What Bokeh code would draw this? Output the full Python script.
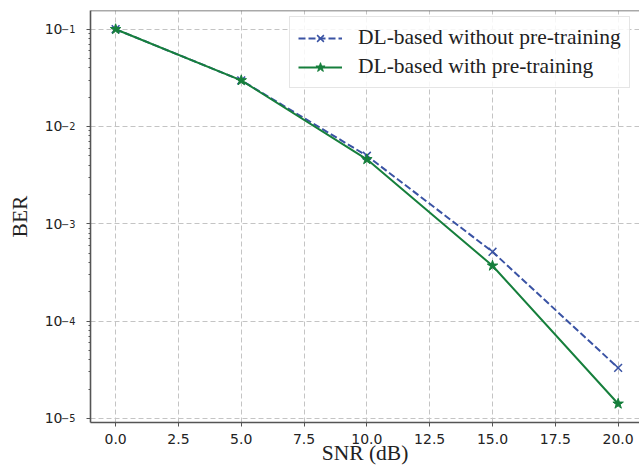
from bokeh.plotting import figure
from bokeh.models import FixedTicker, CustomJSTickFormatter, PrintfTickFormatter, Range1d, Span, LogAxis
from bokeh.embed import file_html
from bokeh.resources import INLINE
import math

# ---- data ----
snr = [0, 5, 10, 15, 20]
ber_without = [0.1, 0.0298, 0.0050, 0.000515, 3.3e-5]
ber_with = [0.1, 0.0298, 0.0046, 0.00037, 1.41e-5]
label_without = "DL-based without pre-training"
label_with = "DL-based with pre-training"
x_ticks = [0, 2.5, 5, 7.5, 10, 12.5, 15, 17.5, 20]
y_ticks = [1e-5, 1e-4, 1e-3, 1e-2, 1e-1]

BLUE = "#3a53a4"
GREEN = "#167f3c"
SERIF = "Liberation Serif"
SANS = "DejaVu Sans"
AXC = "#555555"
TXT = "#222222"

# y range: 5% log margins around the data
all_y = ber_without + ber_with
lo, hi = math.log10(min(all_y)), math.log10(max(all_y))
span = hi - lo
y_start, y_end = 10 ** (lo - 0.05 * span), 10 ** (hi + 0.05 * span)
x_start = -1

p = figure(width=639, height=472, y_axis_type="log",
           x_range=Range1d(x_start, 20.85), y_range=Range1d(y_start, y_end),
           output_backend="svg", toolbar_location=None,
           min_border_left=90, min_border_top=10, min_border_right=0, min_border_bottom=50)

p.background_fill_color = "white"
p.border_fill_color = "white"
p.outline_line_color = None

# grid
for g in (p.xgrid, p.ygrid):
    g.grid_line_color = "#c4c4c4"
    g.grid_line_dash = "5 3"
    g.grid_line_width = 1
p.ygrid.minor_grid_line_color = None

# axes
p.xaxis.ticker = FixedTicker(ticks=x_ticks)
p.xaxis.formatter = PrintfTickFormatter(format="%.1f")
minor = [m * 10 ** e for e in range(-6, 0) for m in range(2, 10)]
p.yaxis.ticker = FixedTicker(ticks=y_ticks, minor_ticks=minor)
# inner y axis shows the exponents (superscripts)
p.yaxis.formatter = CustomJSTickFormatter(code="""
const e = Math.round(Math.log10(tick));
return (e < 0 ? '\u2212' : '') + String(Math.abs(e));
""")

for ax in (p.xaxis, p.yaxis):
    ax.axis_line_color = AXC
    ax.axis_line_width = 1.6
    ax.major_tick_line_color = AXC
    ax.minor_tick_line_color = AXC
    ax.major_tick_in = 0
    ax.major_tick_out = 4
    ax.minor_tick_in = 0
    ax.minor_tick_out = 2
    ax.major_label_text_font = SANS
    ax.major_label_text_font_size = "14px"
    ax.major_label_text_color = TXT
    ax.axis_label_text_font = SERIF
    ax.axis_label_text_font_size = "21.5px"
    ax.axis_label_text_font_style = "normal"
    ax.axis_label_text_color = TXT
p.xaxis.minor_tick_line_color = None

p.xaxis.axis_label = "SNR (dB)"
p.xaxis.major_label_standoff = 7
p.xaxis.axis_label_standoff = -6

p.yaxis.major_label_text_font_size = "9.8px"
p.yaxis.major_label_text_baseline = "bottom"
p.yaxis.major_label_standoff = 11

# outer y axis shows the base "10" and the axis title
base_axis = LogAxis(ticker=FixedTicker(ticks=y_ticks),
                    formatter=CustomJSTickFormatter(code="return '10';"),
                    axis_label="BER")
base_axis.axis_line_color = None
base_axis.major_tick_line_color = None
base_axis.minor_tick_line_color = None
base_axis.major_tick_in = 0
base_axis.major_tick_out = 0
base_axis.minor_tick_in = 0
base_axis.minor_tick_out = 0
base_axis.major_label_standoff = -4
base_axis.major_label_text_font = SANS
base_axis.major_label_text_font_size = "14px"
base_axis.major_label_text_color = TXT
base_axis.axis_label_text_font = SERIF
base_axis.axis_label_text_font_size = "21.5px"
base_axis.axis_label_text_font_style = "normal"
base_axis.axis_label_text_color = TXT
base_axis.axis_label_standoff = 10
p.add_layout(base_axis, "left")

# top frame line
p.add_layout(Span(location=y_end, dimension="width", line_color=AXC, line_width=1.6))

# series
p.line(snr, ber_without, line_color=BLUE, line_width=2, line_dash="7 3", legend_label=label_without)
p.scatter(snr, ber_without, marker="x", size=11, line_color=BLUE, line_width=1.5, legend_label=label_without)
p.line(snr, ber_with, line_color=GREEN, line_width=2, legend_label=label_with)
p.scatter(snr, ber_with, marker="star", size=11, fill_color=GREEN, line_color=GREEN, line_width=1, legend_label=label_with)

lg = p.legend[0]
lg.location = (199, 334)
lg.margin = 0
lg.padding = 8
lg.spacing = 4
lg.glyph_width = 44
lg.glyph_height = 24
lg.label_height = 24
lg.label_standoff = 16
lg.label_text_font = SERIF
lg.label_text_font_size = "21.5px"
lg.label_text_color = TXT
lg.border_line_color = "#cccccc"
lg.border_line_width = 1
lg.background_fill_color = "white"
lg.background_fill_alpha = 0.85

open("out.html", "w").write(file_html(p, INLINE))
